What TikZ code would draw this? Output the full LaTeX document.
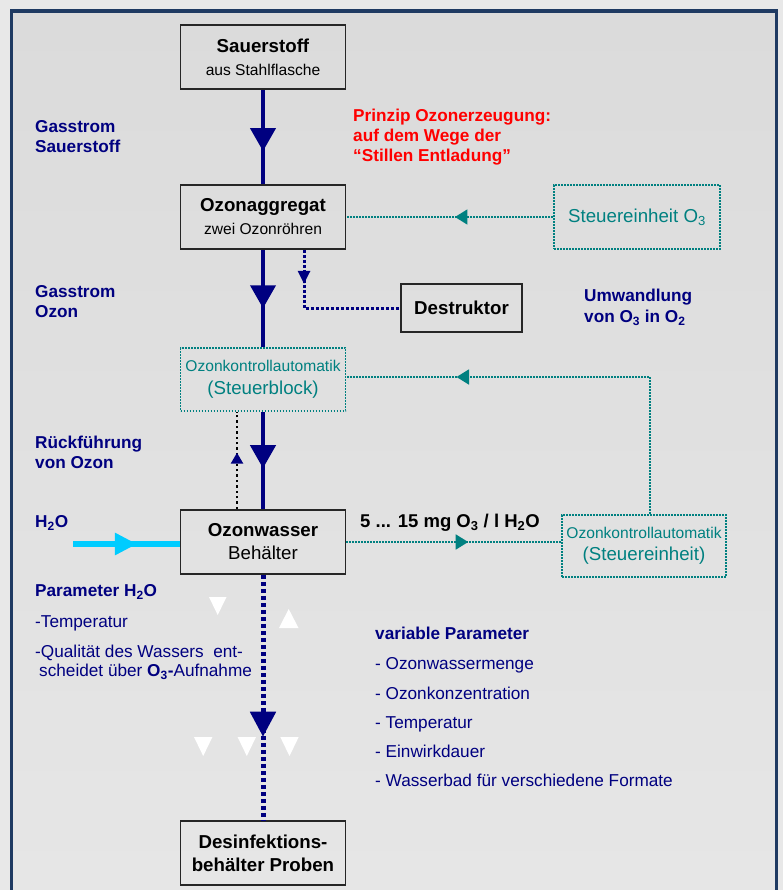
\documentclass[tikz,border=0pt]{standalone}
\usepackage{fontspec}
\setmainfont{Liberation Sans}
\usetikzlibrary{arrows.meta,positioning,decorations.markings}
\definecolor{flownavy}{HTML}{000080}
\definecolor{ctrlteal}{HTML}{008080}
\definecolor{frameblue}{HTML}{1F3A62}
\definecolor{watercyan}{HTML}{00CCFF}
\definecolor{pagegray}{HTML}{E8E8E8}
\definecolor{panetop}{HTML}{DBDBDB}
\definecolor{panebot}{HTML}{E6E6E6}
\newcommand{\subsize}{\fontsize{15.6}{23}\selectfont}

\tikzset{
  unitbox/.style={draw=black!85,line width=1.8pt,minimum width=165pt,minimum height=64pt,
    align=center,inner sep=2pt,font=\fontsize{18.7}{23}\selectfont},
  ctrlbox/.style={draw=ctrlteal,line width=1.6pt,dash pattern=on 1.6pt off 1.4pt,
    text=ctrlteal,align=center,inner sep=2pt,font=\fontsize{18.7}{22.5}\selectfont},
  sidelabel/.style={anchor=west,align=left,inner sep=0pt,text=flownavy,
    font=\fontsize{17.2}{20}\selectfont\bfseries},
  sidenote/.style={anchor=west,align=left,inner sep=0pt,text=flownavy,
    font=\fontsize{17.2}{19.5}\selectfont},
  listitem/.style={sidenote,text height=12.4pt,text depth=3.6pt},
  flow/.style={draw=flownavy,line width=4pt},
  flowdots/.style={draw=flownavy,line width=5pt,dash pattern=on 4pt off 3pt},
  ctrlline/.style={draw=ctrlteal,line width=1.8pt,dash pattern=on 1.8pt off 1.2pt},
  backline/.style={draw=black,line width=2.4pt,dash pattern=on 2.4pt off 3pt},
  dumpline/.style={draw=flownavy,line width=3pt,dash pattern=on 3pt off 2pt},
  waterline/.style={draw=watercyan,line width=6pt},
  midtip/.style 2 args={postaction={decorate},
    decoration={markings,mark=at position #1 with {\arrow{#2}}}}
}

\begin{document}
\begin{tikzpicture}[x=1pt,y=-1pt]
  % Ozone water plant -- flow scheme, pixel grid 783 x 890 (y downwards)
  \useasboundingbox (0,0) rectangle (783,890);
  % --- Background and frame ---
  \fill[pagegray] (0,0) rectangle (783,890);
  \shade[top color=panetop,bottom color=panebot] (11.5,11) rectangle (776.5,890);
  \draw[frameblue,line width=3.5pt] (11.5,890) -- (11.5,11) -- (776.5,11) -- (776.5,890);

  % --- Main chain ---
  \node[unitbox] (o2src) at (263,57) {\textbf{Sauerstoff}\\{\subsize aus Stahlflasche}};
  \node[unitbox] (ozgen) at (263,217) {\textbf{Ozonaggregat}\\{\subsize zwei Ozonröhren}};
  \node[ctrlbox,minimum width=165pt,minimum height=63pt] (ctlblk) at (263,379.5)
    {{\subsize Ozonkontrollautomatik}\\(Steuerblock)};
  \node[unitbox] (ozwat) at (263,542) {\textbf{Ozonwasser}\\Behälter};
  \node[unitbox] (disinf) at (263,853) {\textbf{Desinfektions-}\\\textbf{behälter Proben}};

  % --- Side units ---
  \node[unitbox,minimum width=121pt,minimum height=48pt] (destr) at (461.5,308) {\textbf{Destruktor}};
  \node[ctrlbox,minimum width=166pt,minimum height=64pt] (o3unit) at (637,217)
    {Steuereinheit O\textsubscript{3}};
  \node[ctrlbox,minimum width=164pt,minimum height=62pt] (ctlunit) at (644,546)
    {{\subsize Ozonkontrollautomatik}\\(Steuereinheit)};

  % --- Labels left ---
  \node[sidelabel] (lgaso2) at (35,137) {Gasstrom\\Sauerstoff};
  \node[sidelabel] (lgaso3) at (35,302) {Gasstrom\\Ozon};
  \node[sidelabel] (lback) at (35,452.5) {Rückführung\\von Ozon};
  \node[sidelabel] (lwater) at (35,523) {H\textsubscript{2}O};
  \node[sidelabel] (lparam) at (35,592) {Parameter H\textsubscript{2}O};
  \node[listitem] (ltemp) at (35,623) {-Temperatur};
  \node[sidenote] (lqual) at (35,662)
    {-Qualität des Wassers\ \ ent-\\\hspace{4pt}scheidet über \textbf{O\textsubscript{3}-}Aufnahme};

  % --- Labels right ---
  \node[sidelabel,text=red] (lprinc) at (353,137)
    {Prinzip Ozonerzeugung:\\auf dem Wege der\\“Stillen Entladung”};
  \node[sidelabel,font=\fontsize{17.2}{21}\selectfont\bfseries] (lconv) at (584,307.5)
    {Umwandlung\\von O\textsubscript{3} in O\textsubscript{2}};
  \node[anchor=west,inner sep=0pt,font=\fontsize{18.5}{22}\selectfont\bfseries] (lconc) at (360,523)
    {5 ... 15 mg O\textsubscript{3} / l H\textsubscript{2}O};
  \node[sidelabel] (lvar) at (375,633) {variable Parameter};
  \foreach \txt [count=\i] in {Ozonwassermenge,Ozonkonzentration,Temperatur,
      Einwirkdauer,Wasserbad für verschiedene Formate}
    \node[listitem] (lvar\i) at (375,636+29.3*\i) {- \txt};

  % --- Gas and water flow ---
  \draw[flow,midtip={0.65}{Triangle[width=25pt,length=23pt]}] (o2src) -- (ozgen);
  \draw[flow,midtip={0.6}{Triangle[width=25pt,length=23pt]}] (ozgen) -- (ctlblk);
  \draw[flow,midtip={0.58}{Triangle[width=25pt,length=23pt]}] (ctlblk) -- (ozwat);
  \draw[flowdots,midtip={0.66}{Triangle[width=25pt,length=25pt]}] (ozwat) -- (disinf);
  \coordinate (winlet) at (73,544);
  \draw[waterline,midtip={0.6}{Triangle[width=21pt,length=22pt]}] (winlet) -- (winlet -| ozwat.west);

  % --- Destructor and return line ---
  \coordinate (dknee) at (304,308);
  \draw[dumpline,midtip={0.22}{Triangle[width=12pt,length=13pt]}]
    (ozgen.south -| dknee) -- (dknee) -- (destr.west);
  \coordinate (bret) at (237,460);
  \draw[backline,midtip={0.58}{Triangle[width=12pt,length=11pt,color=flownavy]}]
    (ozwat.north -| bret) -- (ctlblk.south -| bret);

  % --- Control lines ---
  \draw[ctrlline,midtip={0.475}{Triangle[width=15pt,length=12.5pt]}] (o3unit) -- (ozgen);
  \draw[ctrlline,midtip={0.567}{Triangle[width=15pt,length=12.5pt]}]
    (ozwat.east) -- (ozwat.east -| ctlunit.west);
  \coordinate (fbknee) at (650,377);
  \draw[ctrlline,midtip={0.75}{Triangle[width=15pt,length=12.5pt]}]
    (ctlunit.north -| fbknee) -- (fbknee) -- (fbknee -| ctlblk.east);

  % --- White markers ---
  \fill[white] (209,597) -- (226.5,597) -- (217.7,615) -- cycle;
  \fill[white] (279,628) -- (298.5,628) -- (288.7,609) -- cycle;
  \foreach \xc in {203.2,246.8,289.5}
    \fill[white] (\xc-9.2,737) -- (\xc+9.2,737) -- (\xc,756) -- cycle;
\end{tikzpicture}
\end{document}
